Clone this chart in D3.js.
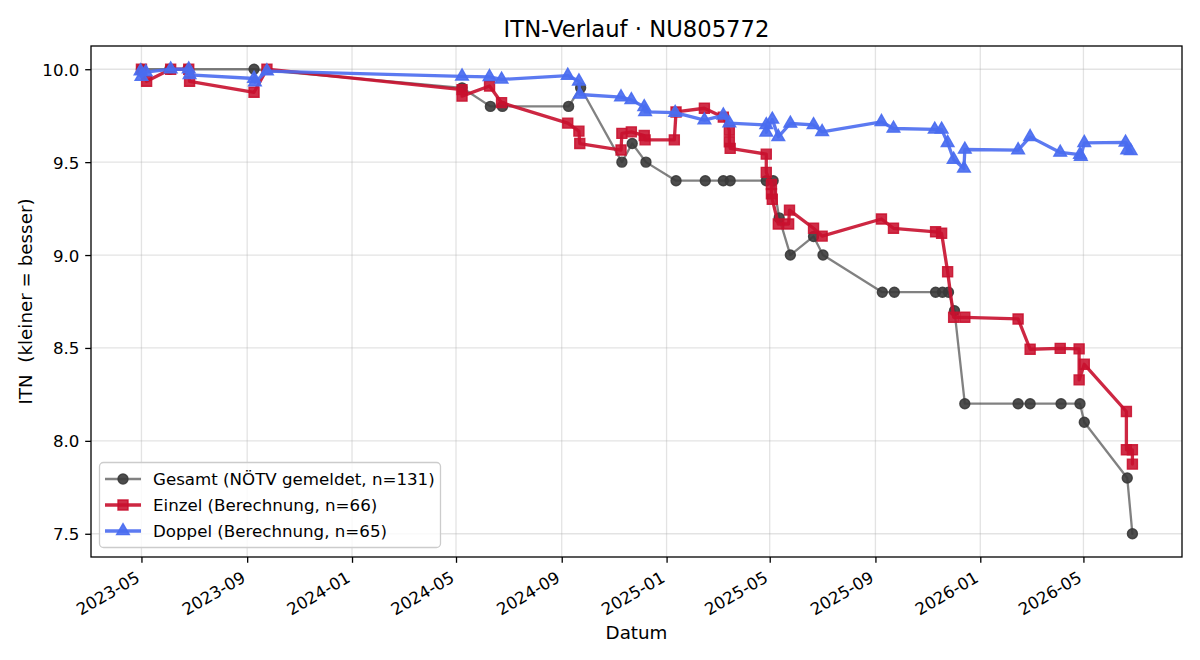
<!DOCTYPE html>
<html>
<head>
<meta charset="utf-8">
<script src="https://cdn.jsdelivr.net/npm/d3@7"></script>
<style>
  html, body { margin: 0; padding: 0; background: #fff; }
  svg { display: block; font-family: "DejaVu Sans", sans-serif; }
</style>
</head>
<body>
<svg id="chart" width="1200" height="660"></svg>
<script>
// ---- Data ----
const gesamtDates = ["2023-05-01","2023-06-03","2023-06-24","2023-09-09","2024-05-08","2024-06-10","2024-06-24","2024-09-09","2024-09-23","2024-11-10","2024-11-22","2024-12-08","2025-01-12","2025-02-15","2025-03-08","2025-03-16","2025-04-27","2025-05-05","2025-05-12","2025-05-25","2025-06-21","2025-07-02","2025-09-09","2025-09-23","2025-11-10","2025-11-18","2025-11-25","2025-12-02","2025-12-14","2026-02-14","2026-02-28","2026-04-05","2026-04-27","2026-05-02","2026-06-21","2026-06-27"];
const gesamtValues = [10.0,10.0,10.0,10.0,9.9,9.8,9.8,9.8,9.9,9.5,9.6,9.5,9.4,9.4,9.4,9.4,9.4,9.4,9.2,9.0,9.1,9.0,8.8,8.8,8.8,8.8,8.8,8.7,8.2,8.2,8.2,8.2,8.2,8.1,7.8,7.5];

const einzelDates = ["2023-05-01","2023-05-07","2023-06-04","2023-06-25","2023-06-26","2023-09-09","2023-09-24","2024-05-08","2024-05-08","2024-06-09","2024-06-23","2024-09-08","2024-09-21","2024-09-22","2024-11-09","2024-11-10","2024-11-21","2024-12-06","2024-12-07","2025-01-10","2025-01-12","2025-02-14","2025-03-08","2025-03-15","2025-03-15","2025-03-16","2025-04-27","2025-04-27","2025-05-03","2025-05-03","2025-05-04","2025-05-11","2025-05-23","2025-05-24","2025-06-21","2025-07-01","2025-09-08","2025-09-22","2025-11-10","2025-11-17","2025-11-24","2025-12-01","2025-12-14","2026-02-14","2026-02-28","2026-04-04","2026-04-26","2026-04-26","2026-05-02","2026-06-20","2026-06-20","2026-06-27","2026-06-27"];
const einzelValues = [10.0,9.935,10.0,10.0,9.935,9.876,10.0,9.89,9.855,9.91,9.82,9.71,9.667,9.60,9.565,9.655,9.663,9.643,9.62,9.62,9.77,9.79,9.742,9.672,9.61,9.574,9.543,9.445,9.38,9.33,9.30,9.167,9.167,9.242,9.144,9.102,9.194,9.144,9.125,9.117,8.91,8.665,8.665,8.656,8.493,8.498,8.495,8.328,8.412,8.158,7.952,7.952,7.875];

const doppelDates = ["2023-04-30","2023-05-01","2023-05-06","2023-06-04","2023-06-25","2023-06-26","2023-09-09","2023-09-10","2023-09-24","2024-05-08","2024-06-09","2024-06-23","2024-09-08","2024-09-21","2024-09-22","2024-11-09","2024-11-21","2024-12-06","2024-12-07","2025-01-11","2025-02-14","2025-03-08","2025-03-15","2025-04-27","2025-04-27","2025-05-04","2025-05-11","2025-05-25","2025-06-21","2025-07-01","2025-09-08","2025-09-22","2025-11-09","2025-11-17","2025-11-24","2025-12-01","2025-12-13","2025-12-14","2026-02-14","2026-02-28","2026-04-04","2026-04-27","2026-04-28","2026-05-02","2026-06-19","2026-06-21","2026-06-25"];
const doppelValues = [9.99,9.96,9.985,10.0,10.0,9.97,9.95,9.93,9.99,9.962,9.959,9.945,9.966,9.935,9.864,9.85,9.835,9.797,9.77,9.766,9.726,9.752,9.71,9.70,9.66,9.73,9.636,9.708,9.70,9.663,9.717,9.681,9.676,9.676,9.604,9.514,9.466,9.568,9.565,9.636,9.552,9.541,9.53,9.604,9.606,9.565,9.56];

const seriesNames = ["Gesamt (NÖTV gemeldet, n=131)", "Einzel (Berechnung, n=66)", "Doppel (Berechnung, n=65)"];
const xTickLabels = ["2023-05","2023-09","2024-01","2024-05","2024-09","2025-01","2025-05","2025-09","2026-01","2026-05"];
const yTickValues = [7.5, 8.0, 8.5, 9.0, 9.5, 10.0];
const titleText = "ITN-Verlauf · NU805772";
const xLabelText = "Datum";
const yLabelText = "ITN  (kleiner = besser)";

// ---- Layout ----
const W = 1200, H = 660;
const m = { left: 91, right: 1182, top: 46, bottom: 557 };
const FS = 16.67;
const LFS = 18.3;

const parse = d3.utcParse("%Y-%m-%d");
const parseM = d3.utcParse("%Y-%m");
const mk = (dates, vals) => dates.map((d, i) => ({ date: parse(d), value: vals[i] }));

const series = [
  { name: seriesNames[0], data: mk(gesamtDates, gesamtValues), line: "#333333", lineOp: 0.62, lw: 2.3, fill: "#3a3a3a", fillOp: 0.9, symbol: d3.symbolCircle, size: 78 },
  { name: seriesNames[1], data: mk(einzelDates, einzelValues), line: "#c8102e", lineOp: 0.9, lw: 3.3, fill: "#c8102e", fillOp: 0.88, symbol: d3.symbolSquare, size: 100 },
  { name: seriesNames[2], data: mk(doppelDates, doppelValues), line: "#4a6cf0", lineOp: 0.9, lw: 3.3, fill: "#4a6cf0", fillOp: 0.92, symbol: d3.symbolTriangle, size: 70 }
];

const allDates = series.flatMap(s => s.data.map(d => d.date));
const allVals = series.flatMap(s => s.data.map(d => d.value));
const [dMin, dMax] = d3.extent(allDates);
const span = dMax - dMin;
const [vMin, vMax] = d3.extent(allVals);
const vSpan = vMax - vMin;

const x = d3.scaleUtc()
  .domain([new Date(+dMin - span * 0.05), new Date(+dMax + span * 0.05)])
  .range([m.left, m.right]);
const y = d3.scaleLinear()
  .domain([vMin - vSpan * 0.05, vMax + vSpan * 0.05])
  .range([m.bottom, m.top]);

const svg = d3.select("#chart");
svg.append("rect").attr("width", W).attr("height", H).attr("fill", "#fff");

const xTicks = xTickLabels.map(parseM);

// grid
const grid = svg.append("g");
grid.selectAll("line.gx").data(xTicks).join("line")
  .attr("x1", d => x(d)).attr("x2", d => x(d))
  .attr("y1", m.top).attr("y2", m.bottom)
  .attr("stroke", "#b0b0b0").attr("stroke-opacity", 0.35).attr("stroke-width", 1.3);
grid.selectAll("line.gy").data(yTickValues).join("line")
  .attr("x1", m.left).attr("x2", m.right)
  .attr("y1", d => y(d)).attr("y2", d => y(d))
  .attr("stroke", "#b0b0b0").attr("stroke-opacity", 0.35).attr("stroke-width", 1.3);

// series
const plot = svg.append("g");
const lineGen = d3.line().x(d => x(d.date)).y(d => y(d.value));
series.forEach(s => {
  const g = plot.append("g");
  g.append("path").datum(s.data)
    .attr("d", lineGen)
    .attr("fill", "none")
    .attr("stroke", s.line).attr("stroke-opacity", s.lineOp)
    .attr("stroke-width", s.lw).attr("stroke-linejoin", "round").attr("stroke-linecap", "round");
  g.selectAll("path.mk").data(s.data).join("path")
    .attr("class", "mk")
    .attr("d", d3.symbol().type(s.symbol).size(s.size))
    .attr("transform", d => `translate(${x(d.date)},${y(d.value)})`)
    .attr("fill", s.fill).attr("fill-opacity", s.fillOp)
    .attr("stroke", s.fill).attr("stroke-opacity", s.fillOp).attr("stroke-width", 1.4);
});

// frame
svg.append("rect")
  .attr("x", m.left).attr("y", m.top).attr("width", m.right - m.left).attr("height", m.bottom - m.top)
  .attr("fill", "none").attr("stroke", "#000").attr("stroke-width", 1.3);

// x axis
const xAxis = d3.axisBottom(x).tickValues(xTicks).tickSize(5.8).tickPadding(0).tickFormat(d3.utcFormat("%Y-%m"));
const gx = svg.append("g").attr("transform", `translate(0,${m.bottom})`).call(xAxis);
gx.select(".domain").remove();
gx.selectAll(".tick line").attr("stroke", "#000").attr("stroke-width", 1.3);
gx.selectAll(".tick text")
  .attr("font-size", FS).attr("fill", "#000").attr("font-family", "DejaVu Sans")
  .attr("text-anchor", "end")
  .attr("y", 0).attr("dy", 0)
  .attr("transform", "translate(-1,24) rotate(-30)");

// y axis
const yAxis = d3.axisLeft(y).tickValues(yTickValues).tickSize(5.8).tickPadding(5.8).tickFormat(d3.format(".1f"));
const gy = svg.append("g").attr("transform", `translate(${m.left},0)`).call(yAxis);
gy.select(".domain").remove();
gy.selectAll(".tick line").attr("stroke", "#000").attr("stroke-width", 1.3);
gy.selectAll(".tick text").attr("font-size", FS).attr("fill", "#000").attr("font-family", "DejaVu Sans").attr("dy", "0.36em");

// title & labels
svg.append("text").attr("x", (m.left + m.right) / 2).attr("y", 37)
  .attr("text-anchor", "middle").attr("font-size", 22.7).attr("fill", "#000").text(titleText);
svg.append("text").attr("x", (m.left + m.right) / 2).attr("y", 639)
  .attr("text-anchor", "middle").attr("font-size", LFS).attr("fill", "#000").text(xLabelText);
svg.append("text")
  .attr("transform", `translate(32,${(m.top + m.bottom) / 2}) rotate(-90)`)
  .attr("text-anchor", "middle").attr("font-size", LFS).attr("fill", "#000")
  .style("white-space", "pre").attr("xml:space", "preserve").text(yLabelText);

// legend
const lg = svg.append("g");
lg.append("rect").attr("x", 99.5).attr("y", 462.5).attr("width", 341).attr("height", 85)
  .attr("rx", 4).attr("fill", "#fff").attr("fill-opacity", 0.8)
  .attr("stroke", "#cccccc").attr("stroke-width", 1.3);
series.forEach((s, i) => {
  const cy = 479 + i * 26;
  lg.append("line").attr("x1", 105).attr("x2", 141).attr("y1", cy).attr("y2", cy)
    .attr("stroke", s.line).attr("stroke-opacity", s.lineOp).attr("stroke-width", s.lw);
  lg.append("path").attr("d", d3.symbol().type(s.symbol).size(s.size))
    .attr("transform", `translate(123,${cy})`)
    .attr("fill", s.fill).attr("fill-opacity", s.fillOp)
    .attr("stroke", s.fill).attr("stroke-opacity", s.fillOp).attr("stroke-width", 1.4);
  lg.append("text").attr("x", 153).attr("y", cy).attr("dy", "0.36em")
    .attr("font-size", FS).attr("fill", "#000").text(s.name);
});
</script>
</body>
</html>
